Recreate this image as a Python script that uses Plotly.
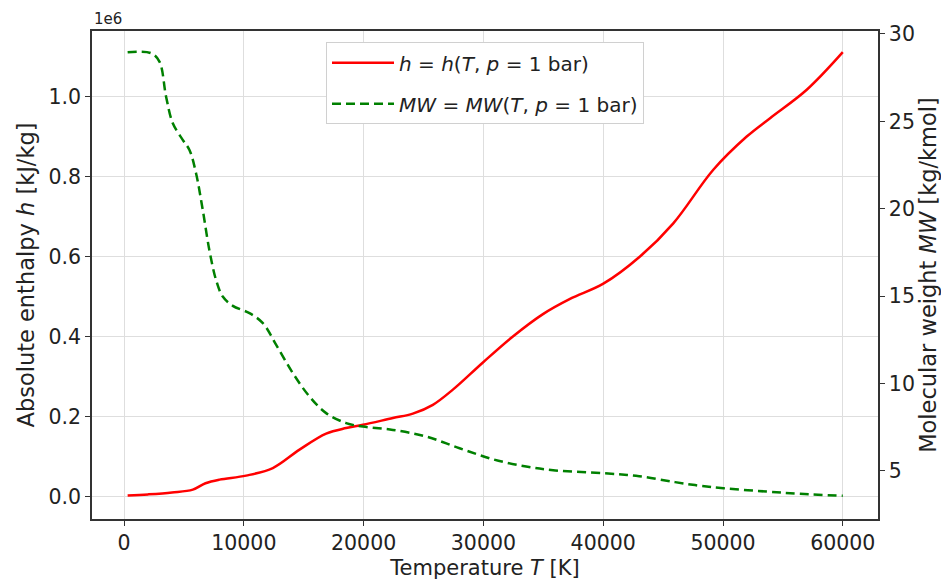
import plotly.graph_objects as go

# enthalpy curve h(T, p = 1 bar)
temp_h = [300, 2000, 4000, 5740, 6800, 7970, 10190, 12420, 14650, 16870, 18540,
          19940, 22440, 24110, 25780, 27450, 29960, 32460, 34970, 37230, 40010,
          43070, 45850, 49190, 51980, 53930, 56990, 60000]
enthalpy = [2000, 5000, 10000, 17000, 33000, 42000, 52000, 71000, 117000, 157000,
            171000, 179000, 196000, 207000, 229000, 267000, 335000, 400000, 456000,
            494000, 532000, 600000, 683000, 817000, 900000, 946000, 1017000, 1111000]

# molecular weight MW(T, p = 1 bar)
temp_mw = [300, 2255, 2955, 3510, 4070, 4900, 5460, 6010, 6570, 7130, 7690, 8240,
           9080, 10470, 11590, 12700, 14090, 15480, 16870, 18540, 19940, 22440,
           25220, 28010, 30790, 33570, 36000, 40000, 43000, 46000, 48110, 50040,
           53650, 56430, 60000]
mol_weight = [28.95, 28.9, 28.42, 26.41, 24.89, 23.94, 23.36, 22.03, 19.93, 17.6,
              15.9, 14.97, 14.44, 14.02, 13.45, 12.21, 10.59, 9.25, 8.30, 7.73,
              7.53, 7.34, 6.96, 6.29, 5.66, 5.24, 5.02, 4.86, 4.69, 4.35, 4.14,
              4.0, 3.81, 3.68, 3.57]

x_ticks = [0, 10000, 20000, 30000, 40000, 50000, 60000]
h_ticks = [0, 200000, 400000, 600000, 800000, 1000000]
h_ticktext = ["0.0", "0.2", "0.4", "0.6", "0.8", "1.0"]
mw_ticks = [5, 10, 15, 20, 25, 30]

police = "DejaVu Sans"
texte = "#222222"
cadre = "#333333"
grille = "#dedede"

fig = go.Figure()
fig.add_trace(go.Scatter(
    x=temp_h, y=enthalpy, mode="lines", line_shape="spline",
    line=dict(color="#ff0000", width=2.5),
    name="<i>h</i> = <i>h</i>(<i>T</i>, <i>p</i> = 1 bar)",
    legendgroup="h"))
fig.add_trace(go.Scatter(
    x=temp_mw, y=mol_weight, mode="lines", line_shape="spline", yaxis="y2",
    line=dict(color="#008000", width=2.5, dash="9px,5px"),
    name="<i>MW</i> = <i>MW</i>(<i>T</i>, <i>p</i> = 1 bar)",
    legendgroup="mw"))

axe = dict(showline=True, linecolor=cadre, linewidth=1.5, ticks="outside",
           ticklen=5, tickcolor=cadre, tickfont=dict(family=police, size=20.5, color=texte),
           zeroline=False)
titre_x = dict(family=police, size=21, color=texte)
titre_y = dict(family=police, size=22.5, color=texte)

# la page ajoute ~8px de marge au body : on compense dans les marges
fig.update_layout(
    width=949, height=583,
    margin=dict(l=84, r=79, t=23, b=72),
    paper_bgcolor="white", plot_bgcolor="white",
    font=dict(family=police, size=20, color=texte),
    xaxis=dict(axe, range=[-2675, 62939], tickvals=x_ticks, tickformat="d",
               mirror=True, showgrid=True, gridcolor=grille, gridwidth=1,
               title=dict(text="Temperature <i>T</i> [K]", standoff=6, font=titre_x)),
    yaxis=dict(axe, range=[-56500, 1164000], tickvals=h_ticks, ticktext=h_ticktext,
               showgrid=True, gridcolor=grille, gridwidth=1,
               title=dict(text="Absolute enthalpy <i>h</i> [kJ/kg]", standoff=8, font=titre_y)),
    yaxis2=dict(axe, range=[2.24, 30.17], tickvals=mw_ticks, overlaying="y",
                side="right", showgrid=False,
                title=dict(text="Molecular weight <i>MW</i> [kg/kmol]", standoff=6, font=titre_y)),
    legend=dict(x=0.5, xanchor="center", y=0.977, yanchor="top",
                bgcolor="white", bordercolor="#d0d0d0", borderwidth=1,
                font=dict(family=police, size=20, color=texte),
                itemwidth=62, tracegroupgap=12),
    showlegend=True,
)

fig.add_annotation(text="1e6", xref="paper", yref="paper", x=0, y=1,
                   xanchor="left", yanchor="bottom", yshift=1, showarrow=False,
                   font=dict(family=police, size=15, color=texte))

fig.write_html("out.html")
